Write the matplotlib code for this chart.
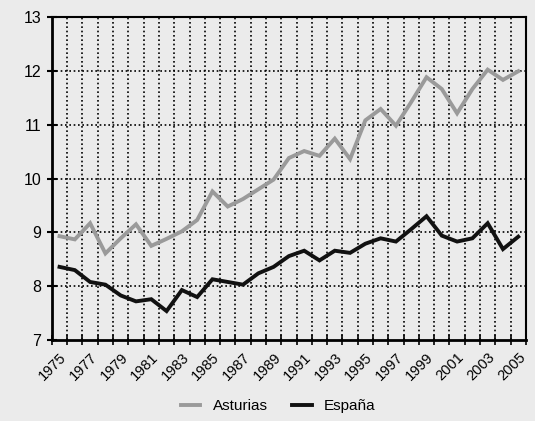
import numpy as np
import matplotlib
matplotlib.use("Agg")
import matplotlib.pyplot as plt

plt.rcParams['font.family'] = ['Liberation Sans', 'DejaVu Sans']

years = list(range(1975, 2006))
asturias = [8.93, 8.87, 9.17, 8.61, 8.89, 9.15, 8.75, 8.88, 9.02, 9.23,
            9.76, 9.48, 9.62, 9.80, 9.98, 10.38, 10.51, 10.42, 10.74, 10.36,
            11.08, 11.29, 10.98, 11.42, 11.88, 11.66, 11.21, 11.66, 12.02, 11.83,
            11.99]
espana = [8.36, 8.30, 8.08, 8.03, 7.83, 7.72, 7.76, 7.54, 7.93, 7.80,
          8.13, 8.08, 8.03, 8.24, 8.36, 8.56, 8.66, 8.48, 8.66, 8.62,
          8.79, 8.89, 8.83, 9.06, 9.30, 8.94, 8.83, 8.89, 9.17, 8.69,
          8.92]
year_labels = [str(y) for y in years[::2]]

bg = '#ebebeb'
fig = plt.figure(figsize=(5.35, 4.21), dpi=100, facecolor=bg)
ax = fig.add_axes([0.097, 0.192, 0.886, 0.768], facecolor=bg)

x = np.arange(len(years))
ax.plot(x, asturias, color='#9a9a9a', lw=2.8, label='Asturias', solid_joinstyle='miter')
ax.plot(x, espana, color='#111111', lw=2.8, label='España', solid_joinstyle='miter')

ax.set_xlim(-0.5, len(years) - 0.5)
ax.set_ylim(7, 13)

# category labels at centres, tick marks / grid at category boundaries
ax.set_xticks(x[::2])
ax.set_xticklabels(year_labels, rotation=45, ha='right', rotation_mode='anchor')
ax.set_xticks(np.arange(-0.5, len(years)), minor=True)
ax.tick_params(axis='x', which='major', length=0, pad=7, labelsize=10.5)
ax.tick_params(axis='x', which='minor', direction='inout', length=7, width=1.2)
ax.set_yticks(range(7, 14))
ax.tick_params(axis='y', direction='inout', length=7, width=1.5, labelsize=11.5, pad=4)

for xv in np.arange(0.5, len(years) - 1):
    ax.axvline(xv, color='black', lw=1.2, ls=(0, (1.0, 1.6)), zorder=0)
for yv in range(8, 13):
    ax.axhline(yv, color='black', lw=1.2, ls=(0, (1.0, 1.6)), zorder=0)

for side in ['left', 'bottom']:
    ax.spines[side].set_linewidth(2)
for side in ['top', 'right']:
    ax.spines[side].set_linewidth(1.5)

fig.legend(loc='center', bbox_to_anchor=(0.52, 0.035), ncol=2, frameon=False,
           fontsize=11, handlelength=1.3, columnspacing=1.6, handletextpad=0.8)

fig.savefig('out.png', dpi=100, facecolor=bg)
